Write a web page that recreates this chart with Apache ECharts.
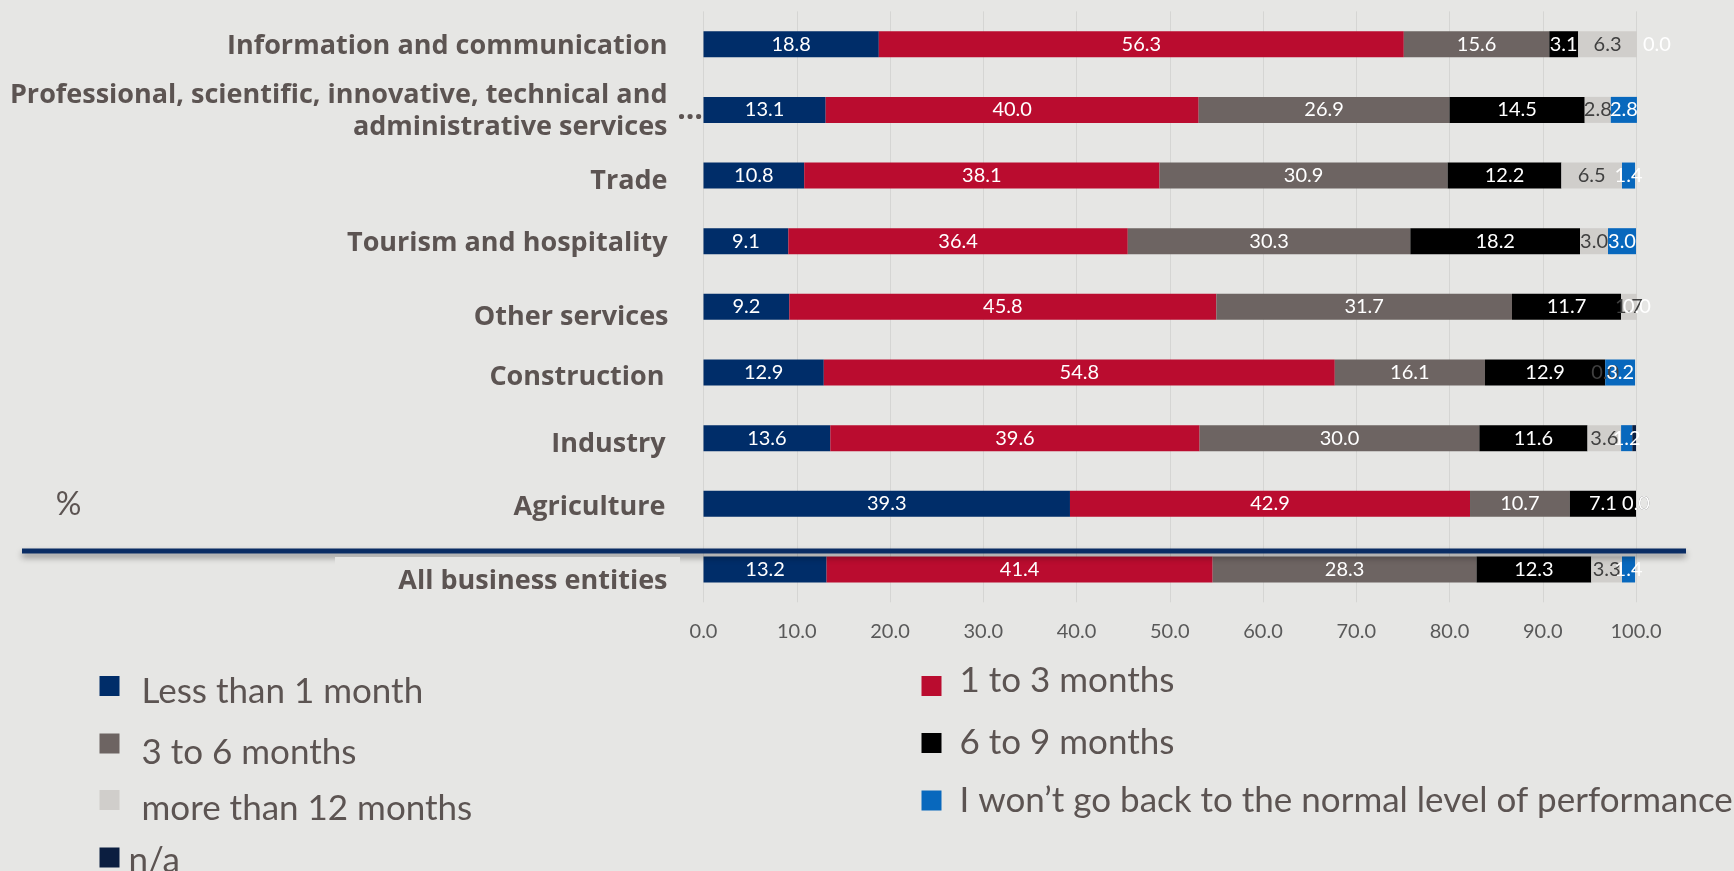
<!DOCTYPE html>
<html>
<head>
<meta charset="utf-8">
<script src="https://cdn.jsdelivr.net/npm/echarts@6/dist/echarts.min.js"></script>
<style>
  html, body { margin: 0; padding: 0; background: #E6E6E4; }
  #chart { width: 1734px; height: 871px; }
</style>
</head>
<body>
<div id="chart"></div>
<script>
// Sectors, top to bottom
const categories = [
  'Information and communication',
  'Professional, scientific, innovative, technical and\nadministrative services',
  'Trade',
  'Tourism and hospitality',
  'Other services',
  'Construction',
  'Industry',
  'Agriculture',
  'All business entities'
];

// Share of business entities (%) by expected time to return to normal performance
const lessThan1Month = [18.8, 13.1, 10.8, 9.1, 9.2, 12.9, 13.6, 39.3, 13.2];
const oneTo3Months   = [56.3, 40.0, 38.1, 36.4, 45.8, 54.8, 39.6, 42.9, 41.4];
const threeTo6Months = [15.6, 26.9, 30.9, 30.3, 31.7, 16.1, 30.0, 10.7, 28.3];
const sixTo9Months   = [3.1, 14.5, 12.2, 18.2, 11.7, 12.9, 11.6, 7.1, 12.3];
const over12Months   = [6.3, 2.8, 6.5, 3.0, 1.7, 0.0, 3.6, 0.0, 3.3];
const wontGoBack     = [0.0, 2.8, 1.4, 3.0, 0.0, 3.2, 1.2, 0.0, 1.4];
const notAvailable   = [0.0, 0.0, 0.0, 0.0, 0.0, 0.0, 0.4, 0.0, 0.0];

const seriesNames = [
  'Less than 1 month',
  '1 to 3 months',
  '3 to 6 months',
  '6 to 9 months',
  'more than 12 months',
  'I won\u2019t go back to the normal level of performance',
  'n/a'
];

const BG = '#E6E6E4';
const TEXT = '#5C5452';
const FONT = 'Lato, "Noto Sans", sans-serif';
const BOLD_FONT = '"Open Sans", "Noto Sans", sans-serif';

// small per-label nudges of the sector names: [down, left]
const labelNudge = [[2,0],[3.3,0],[6,0],[2,0],[10,-1],[5,3],[6,2],[3,2],[12,0]];
const rich = {};
labelNudge.forEach(function (n, i) {
  const base = {
    fontFamily: BOLD_FONT, fontWeight: 'bold', fontSize: 27,
    lineHeight: i === 1 ? 35 : 34,
    color: TEXT, align: 'right'
  };
  // first line carries the nudge, following lines keep their spacing
  rich['c' + i] = Object.assign({ padding: [n[0] * 2, n[1], 0, 0] }, base);
  rich['c' + i + 'n'] = Object.assign({ padding: [0, n[1], 0, 0] }, base);
});

function barSeries(name, data, color, labelColor, showLabel, labelShift) {
  return {
    name: name,
    type: 'bar',
    stack: 'share',
    barWidth: 26,
    clip: false,
    data: data.map(function (v, i) {
      const item = { value: v };
      if (labelShift && labelShift[i]) item.label = { offset: labelShift[i] };
      return item;
    }),
    itemStyle: { color: color },
    label: {
      show: showLabel,
      position: 'inside',
      color: labelColor,
      fontFamily: FONT,
      fontSize: 20,
      formatter: function (p) { return p.value.toFixed(1); }
    },
    emphasis: { disabled: true }
  };
}

// legend swatch alone
function legendSwatch(name, left, top) {
  return {
    data: [name],
    left: left, top: top,
    padding: 0,
    itemWidth: 20, itemHeight: 20,
    icon: 'rect',
    selectedMode: false,
    formatter: function () { return ''; },
    textStyle: { fontSize: 1, lineHeight: 1 }
  };
}

// legend caption alone (swatch hidden)
function legendCaption(name, left, top, gap, shift) {
  const up = shift > 0 ? shift * 2 : 0;
  const down = shift < 0 ? -shift * 2 : 0;
  return {
    data: [name],
    left: left, top: top,
    padding: 0,
    itemWidth: 20, itemHeight: 20,
    icon: 'rect',
    itemStyle: { opacity: 0 },
    selectedMode: false,
    textStyle: {
      fontFamily: FONT, fontSize: 35, lineHeight: 20, color: TEXT,
      padding: [up, 0, down, gap]
    }
  };
}

const chart = echarts.init(document.getElementById('chart'));
chart.setOption({
  backgroundColor: BG,
  animation: false,
  grid: { left: 703.5, right: 98, top: 11.4, bottom: 268.7 },
  xAxis: {
    type: 'value',
    min: 0, max: 100, interval: 10,
    axisLine: { show: false },
    axisTick: { show: false },
    splitLine: { show: true, lineStyle: { color: '#D5D5D3', width: 1 } },
    axisLabel: {
      margin: 19,
      fontFamily: FONT, fontSize: 20, color: '#595959',
      formatter: function (v) { return v.toFixed(1); }
    }
  },
  yAxis: {
    type: 'category',
    inverse: true,
    z: 20,
    data: categories,
    axisLine: { show: false },
    axisTick: { show: false },
    axisLabel: {
      margin: 36,
      rich: rich,
      formatter: function (v, i) {
        return v.split('\n').map(function (line, k) {
          return '{c' + i + (k === 0 ? '' : 'n') + '|' + line + '}';
        }).join('\n');
      }
    }
  },
  legend: [
    legendSwatch(seriesNames[0], 99.5, 676),
    legendSwatch(seriesNames[2], 99.5, 733.5),
    legendSwatch(seriesNames[4], 99.5, 790),
    legendSwatch(seriesNames[6], 99.5, 847.5),
    legendSwatch(seriesNames[1], 921.5, 676),
    legendSwatch(seriesNames[3], 921.5, 733),
    legendSwatch(seriesNames[5], 921.5, 790.5),
    legendCaption(seriesNames[0], 99.5, 674.6, 17, 5.8),
    legendCaption(seriesNames[2], 99.5, 734.5, 17, 7.8),
    legendCaption(seriesNames[4], 99.5, 791.6, 17, 6.7),
    legendCaption(seriesNames[6], 99.5, 843.6, 4, 0),
    legendCaption(seriesNames[1], 921.5, 662.9, 13, -3.7),
    legendCaption(seriesNames[3], 921.5, 724.8, 13, 0),
    legendCaption(seriesNames[5], 921.5, 783.5, 13, 0)
  ],
  series: [
    barSeries(seriesNames[0], lessThan1Month, '#002D69', '#FFFFFF', true),
    barSeries(seriesNames[1], oneTo3Months, '#BA0C2F', '#FFFFFF', true),
    barSeries(seriesNames[2], threeTo6Months, '#6D6462', '#FFFFFF', true),
    barSeries(seriesNames[3], sixTo9Months, '#000000', '#FFFFFF', true),
    barSeries(seriesNames[4], over12Months, '#D0CECB', '#404040', true),
    barSeries(seriesNames[5], wontGoBack, '#0868BD', '#FFFFFF', true, { 0: [20, 0] }),
    barSeries(seriesNames[6], notAvailable, '#0B1E40', '#FFFFFF', false)
  ],
  graphic: [
    {
      type: 'line', z: 10,
      shape: { x1: 22, y1: 551, x2: 1686, y2: 551 },
      style: {
        stroke: '#0A2D64', lineWidth: 5,
        shadowBlur: 6, shadowOffsetY: 4, shadowColor: 'rgba(0,0,0,0.4)'
      }
    },
    {
      // label backing panel that hides the rule's shadow
      type: 'rect', z: 11,
      shape: { x: 335, y: 557, width: 345, height: 44 },
      style: { fill: BG }
    },
    {
      type: 'text', z: 10,
      style: {
        x: 690, y: 110, text: '\u2026', align: 'center', verticalAlign: 'middle',
        fill: TEXT, fontFamily: BOLD_FONT, fontWeight: 'bold', fontSize: 30
      }
    },
    {
      type: 'text', z: 10,
      style: {
        x: 68.5, y: 505, text: '%', align: 'center', verticalAlign: 'middle',
        fill: TEXT, fontFamily: FONT, fontSize: 32
      }
    }
  ]
});
</script>
</body>
</html>
